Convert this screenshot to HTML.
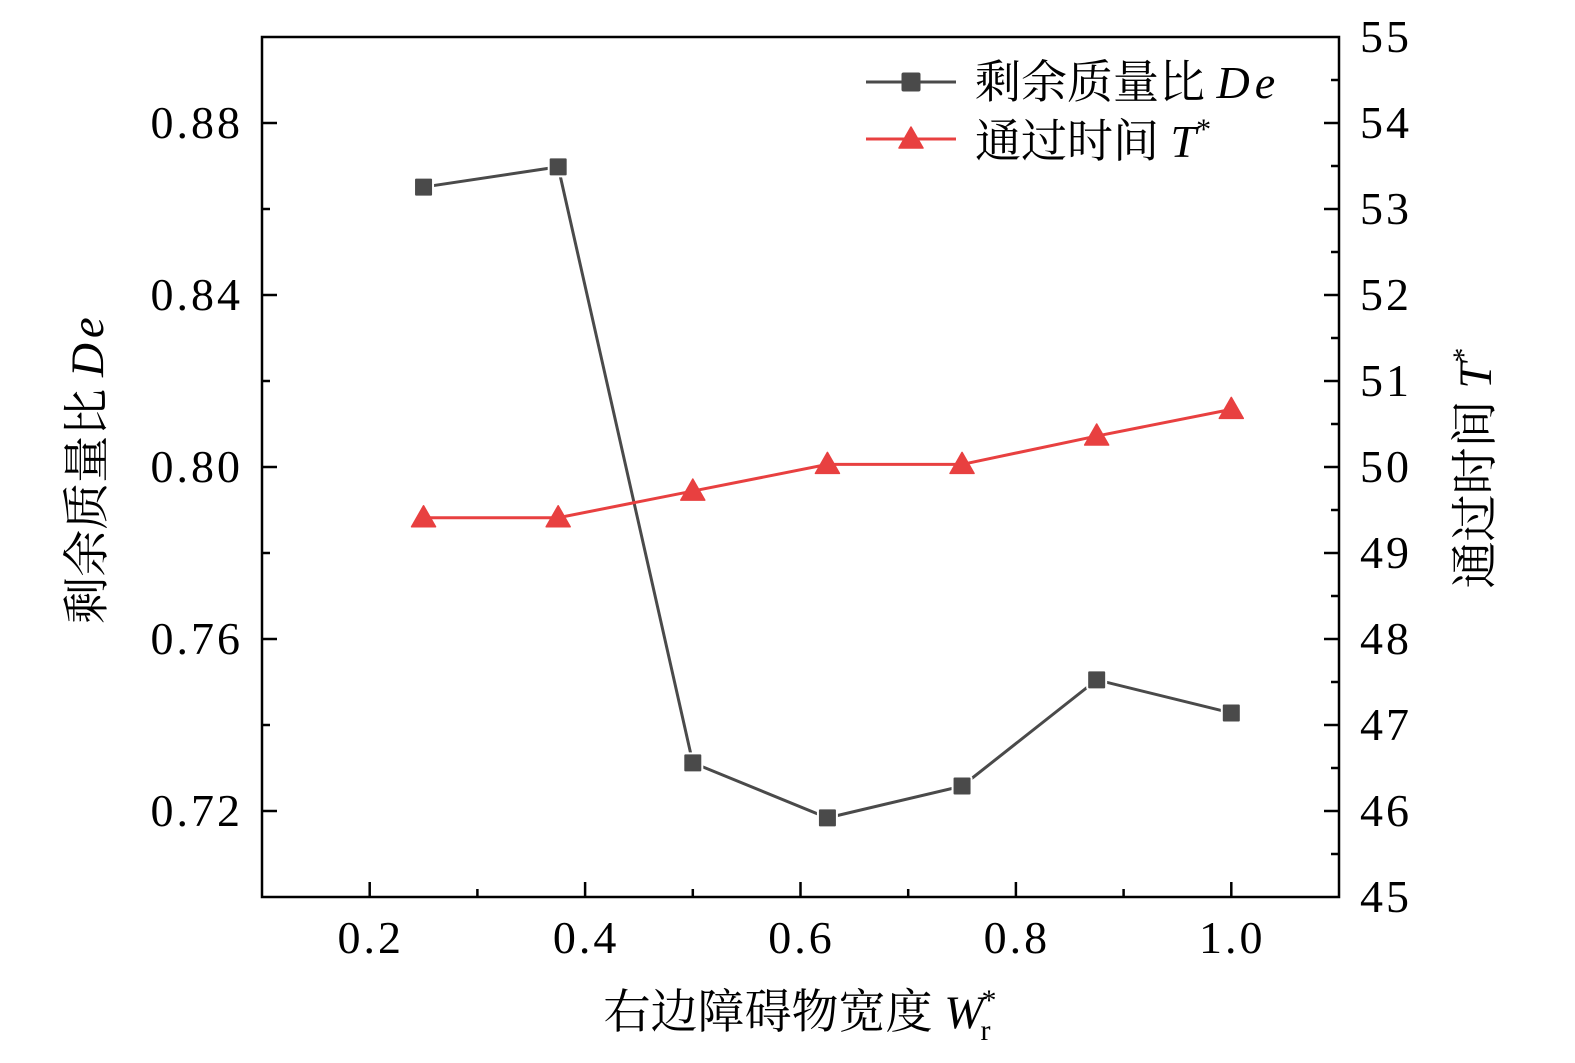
<!DOCTYPE html>
<html><head><meta charset="utf-8">
<style>
html,body{margin:0;padding:0;background:#fff;overflow:hidden;width:1575px;height:1063px;}
svg{display:block;}
text{font-family:"Liberation Serif","Noto Serif CJK SC",serif;fill:#000;}
.cjk{font-family:"Noto Serif CJK SC","Liberation Serif",serif;}
.num{letter-spacing:3px;}
</style></head>
<body>
<svg id="chart" width="1575" height="1063" viewBox="0 0 1575 1063" xmlns="http://www.w3.org/2000/svg">
  <g>
    <g>
      <line x1="866" y1="82" x2="956" y2="82" stroke="#4a4a4a" stroke-width="3"/>
      <rect x="901.5" y="72.5" width="19" height="19" rx="2" fill="#4a4a4a"/>
      <text x="975" y="98" font-size="46"><tspan class="cjk">剩余质量比</tspan> <tspan font-style="italic" letter-spacing="5">De</tspan></text>
    </g>
    <g>
      <line x1="866" y1="139" x2="956" y2="139" stroke="#e84040" stroke-width="3"/>
      <polygon points="911,127 923,148 899,148" fill="#e84040" stroke="#e84040" stroke-width="1.5" stroke-linejoin="round"/>
      <text x="975" y="157" font-size="46"><tspan class="cjk">通过时间</tspan> <tspan font-style="italic">T</tspan><tspan font-size="30" dy="-18">*</tspan></text>
    </g>
  </g>
  <text x="800" y="1028" font-size="47" text-anchor="middle"><tspan class="cjk">右边障碍物宽度</tspan> <tspan font-style="italic">W</tspan><tspan font-size="30" dy="-18" dx="-2">*</tspan><tspan font-size="30" dy="30" dx="-16">r</tspan></text>
  <text transform="translate(103,468) rotate(-90)" font-size="47" text-anchor="middle"><tspan class="cjk">剩余质量比</tspan> <tspan font-style="italic" letter-spacing="5">De</tspan></text>
  <text transform="translate(1491,468) rotate(-90)" font-size="47" text-anchor="middle"><tspan class="cjk">通过时间</tspan> <tspan font-style="italic">T</tspan><tspan font-size="30" dy="-18">*</tspan></text>
</svg>
<script>
const categories = [0.25, 0.375, 0.5, 0.625, 0.75, 0.875, 1.0];
const deValues = [0.8651, 0.8698, 0.7312, 0.7184, 0.7258, 0.7505, 0.7428];
const tValues = [49.41, 49.41, 49.72, 50.03, 50.03, 50.36, 50.67];
const xTicks = [0.2, 0.4, 0.6, 0.8, 1.0];
const xTickLabels = ["0.2", "0.4", "0.6", "0.8", "1.0"];
const yLeftTicks = [0.72, 0.76, 0.80, 0.84, 0.88];
const yLeftTickLabels = ["0.72", "0.76", "0.80", "0.84", "0.88"];
const yRightTicks = [45, 46, 47, 48, 49, 50, 51, 52, 53, 54, 55];

const L = 262, R = 1339, T = 37, B = 897;
const xS = v => L + (v - 0.1) / 1.0 * (R - L);
const yL = v => B - (v - 0.70) / 0.20 * (B - T);
const yR = v => B - (v - 45) / 10 * (B - T);
const NS = "http://www.w3.org/2000/svg";
const svg = document.getElementById('chart');
function mk(tag, attrs, parent) {
  const e = document.createElementNS(NS, tag);
  for (const k in attrs) e.setAttribute(k, attrs[k]);
  (parent || svg).appendChild(e);
  return e;
}

const frame = mk('rect', {x: L, y: T, width: R - L, height: B - T, fill: 'none', stroke: '#000', 'stroke-width': 2.5});



const xAxis = mk('g', {});


for (let i = 1; i <= 9; i++) {
  const v = 0.1 + i * 0.1;
  const major = i % 2 === 1;
  const x = xS(v);
  mk('line', {x1: x, x2: x, y1: B, y2: B - (major ? 15 : 8), stroke: '#000', 'stroke-width': 2.5}, xAxis);
}
xTicks.forEach((v, i) => {
  const t = mk('text', {x: xS(v) + 1, y: 953, 'font-size': 46, 'text-anchor': 'middle', class: 'num'}, xAxis);
  t.textContent = xTickLabels[i];
  
  
});

const yAxisL = mk('g', {});


for (let i = 1; i <= 9; i++) {
  const v = 0.70 + i * 0.02;
  const major = i % 2 === 1;
  mk('line', {x1: L, x2: L + (major ? 15 : 8), y1: yL(v), y2: yL(v), stroke: '#000', 'stroke-width': 2.5}, yAxisL);
}
yLeftTicks.forEach((v, i) => {
  const t = mk('text', {x: 243, y: yL(v) + 15, 'font-size': 46, 'text-anchor': 'end', class: 'num'}, yAxisL);
  t.textContent = yLeftTickLabels[i];
  
  
});

const yAxisR = mk('g', {});


for (let i = 1; i <= 19; i++) {
  const v = 45 + i * 0.5;
  const major = i % 2 === 0;
  mk('line', {x1: R, x2: R - (major ? 15 : 8), y1: yR(v), y2: yR(v), stroke: '#000', 'stroke-width': 2.5}, yAxisR);
}
yRightTicks.forEach(v => {
  const t = mk('text', {x: 1360, y: yR(v) + 15, 'font-size': 46, 'text-anchor': 'start', class: 'num'}, yAxisR);
  t.textContent = String(v);
  
  
});

const gDe = mk('g', {});


mk('polyline', {points: categories.map((c, i) => xS(c) + ',' + yL(deValues[i])).join(' '), fill: 'none', stroke: '#4a4a4a', 'stroke-width': 3}, gDe);
categories.forEach((c, i) => {
  const r = mk('rect', {x: xS(c) - 9.5, y: yL(deValues[i]) - 9.5, width: 19, height: 19, rx: 2, fill: '#4a4a4a', stroke: '#fff', 'stroke-width': 2}, gDe);
  
  
});

const gT = mk('g', {});


mk('polyline', {points: categories.map((c, i) => xS(c) + ',' + yR(tValues[i])).join(' '), fill: 'none', stroke: '#e84040', 'stroke-width': 3}, gT);
categories.forEach((c, i) => {
  const x = xS(c), y = yR(tValues[i]);
  const p = mk('polygon', {points: `${x},${y - 12} ${x + 12},${y + 9} ${x - 12},${y + 9}`, fill: '#e84040', stroke: '#e84040', 'stroke-width': 1.5, 'stroke-linejoin': 'round'}, gT);
  
  
});
</script>
</body></html>
